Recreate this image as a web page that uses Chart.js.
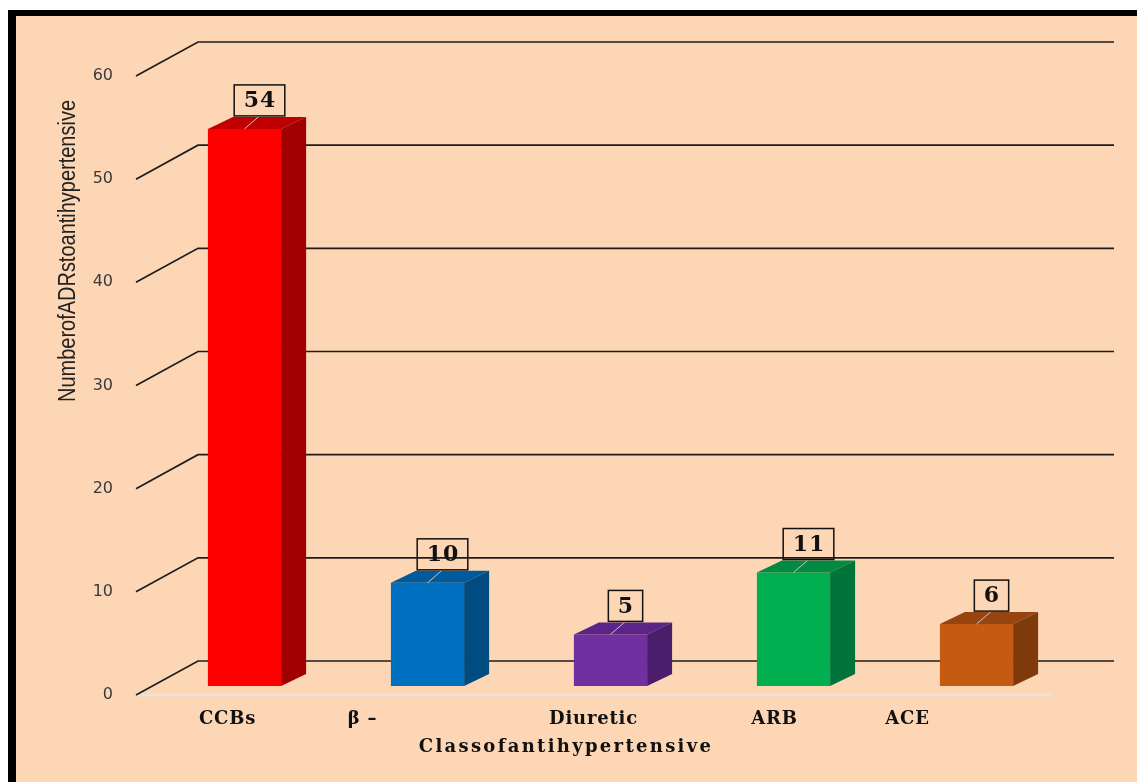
<!DOCTYPE html>
<html>
<head>
<meta charset="utf-8">
<title>ADRs to antihypertensive</title>
<script src="https://cdn.jsdelivr.net/npm/chart.js@4.4.1/dist/chart.umd.min.js"></script>
<style>
  body { margin: 0; background: #fff; overflow: hidden; }
  #frame {
    position: absolute; left: 8px; top: 10px;
    width: 1140px; height: 790px;
    background: #FDD7B5;
    border-top: 6px solid #000;
    border-left: 8px solid #000;
  }
  #adrChart { position: absolute; left: 0; top: 0; }
</style>
</head>
<body>
<div id="frame"></div>
<canvas id="adrChart" width="1137" height="782"></canvas>
<script>
// data
const categories = ['CCBs', 'β –', 'Diuretic', 'ARB', 'ACE'];
const adrCounts = [54, 10, 5, 11, 6];
const yTickValues = [0, 10, 20, 30, 40, 50, 60];
const yAxisTitle = 'NumberofADRstoantihypertensive';
const xAxisTitle = 'Classofantihypertensive';

// colours: front face, side face, top face
const frontColors = ['#FF0000', '#0070C0', '#7030A0', '#00B050', '#C55A11'];
const sideColors  = ['#A00000', '#004B80', '#4A1E6A', '#00743A', '#7F3A0B'];
const topColors   = ['#C00000', '#005A9C', '#5A2586', '#008A42', '#974510'];

// 3d look
const wall = { dx: 62, dy: -34, right: 1114 };
const barShift = { dx: 17, dy: -9 };
const depth = { dx: 25, dy: 12 };
const labelShift = [0, -48, 0, -2, -52];

const box3d = {
  id: 'box3d',
  beforeDatasetsDraw(chart) {
    const { ctx, chartArea, scales: { y } } = chart;
    ctx.save();
    // floor edge
    ctx.strokeStyle = '#E4E4E4';
    ctx.lineWidth = 2;
    ctx.beginPath();
    ctx.moveTo(chartArea.left, chartArea.bottom);
    ctx.lineTo(chartArea.right, chartArea.bottom);
    ctx.stroke();
    // side wall + back wall gridlines
    ctx.strokeStyle = '#1C1C1C';
    ctx.lineWidth = 1.7;
    y.ticks.forEach(t => {
      const py = y.getPixelForValue(t.value);
      ctx.beginPath();
      ctx.moveTo(chartArea.left, py);
      ctx.lineTo(chartArea.left + wall.dx, py + wall.dy);
      ctx.lineTo(wall.right, py + wall.dy);
      ctx.stroke();
    });
    ctx.restore();
    // bars sit a little behind the front plane
    ctx.save();
    ctx.translate(barShift.dx, barShift.dy);
  },
  afterDatasetsDraw(chart) {
    const { ctx } = chart;
    const meta = chart.getDatasetMeta(0);
    meta.data.forEach((bar, i) => {
      const { x, y, base, width } = bar.getProps(['x', 'y', 'base', 'width'], true);
      const l = x - width / 2, r = x + width / 2;
      ctx.fillStyle = topColors[i];
      ctx.beginPath();
      ctx.moveTo(l, y);
      ctx.lineTo(l + depth.dx, y - depth.dy);
      ctx.lineTo(r + depth.dx, y - depth.dy);
      ctx.lineTo(r, y);
      ctx.closePath();
      ctx.fill();
      ctx.fillStyle = sideColors[i];
      ctx.beginPath();
      ctx.moveTo(r, y);
      ctx.lineTo(r + depth.dx, y - depth.dy);
      ctx.lineTo(r + depth.dx, base - depth.dy);
      ctx.lineTo(r, base);
      ctx.closePath();
      ctx.fill();
    });
    ctx.restore();
  },
  afterDraw(chart) {
    const { ctx, scales: { x } } = chart;
    const meta = chart.getDatasetMeta(0);
    ctx.save();

    // value boxes
    ctx.font = 'bold 22px "DejaVu Serif"';
    ctx.letterSpacing = '1px';
    ctx.textAlign = 'center';
    ctx.textBaseline = 'middle';
    meta.data.forEach((bar, i) => {
      const { x: bx, y: by } = bar.getProps(['x', 'y'], true);
      const cx = bx + barShift.dx;
      const top = by + barShift.dy;
      const txt = String(adrCounts[i]);
      const w = ctx.measureText(txt).width + 18;
      const h = 31;
      const boxCx = cx + 15;
      const boxBottom = top - 13;
      ctx.strokeStyle = '#C8C8C8';
      ctx.lineWidth = 1;
      ctx.beginPath();
      ctx.moveTo(cx, top);
      ctx.lineTo(boxCx, boxBottom);
      ctx.stroke();
      ctx.strokeStyle = '#111';
      ctx.lineWidth = 1.5;
      ctx.strokeRect(boxCx - w / 2, boxBottom - h, w, h);
      ctx.fillStyle = '#111';
      ctx.fillText(txt, boxCx + 0.5, boxBottom - h / 2 + 1);
    });

    // category labels
    ctx.font = 'bold 18px "DejaVu Serif"';
    ctx.letterSpacing = '0.8px';
    ctx.fillStyle = '#111';
    categories.forEach((c, i) => {
      ctx.fillText(c, x.getPixelForValue(i) + labelShift[i], 719);
    });

    // axis titles
    ctx.letterSpacing = '2.3px';
    ctx.fillText(xAxisTitle, 566, 747);

    ctx.letterSpacing = '0px';
    ctx.font = '23px "Liberation Sans"';
    ctx.fillStyle = '#222';
    const tw = ctx.measureText(yAxisTitle).width;
    ctx.translate(69, 251);
    ctx.rotate(-Math.PI / 2);
    ctx.scale(302 / tw, 1);
    ctx.fillText(yAxisTitle, 0, 0);
    ctx.restore();
  }
};

const ctx = document.getElementById('adrChart').getContext('2d');
const adrChart = new Chart(ctx, {
  type: 'bar',
  data: {
    labels: categories,
    datasets: [{
      data: adrCounts,
      backgroundColor: frontColors,
      borderWidth: 0,
      barPercentage: 0.4,
      categoryPercentage: 1
    }]
  },
  options: {
    responsive: false,
    animation: false,
    devicePixelRatio: 1,
    layout: { padding: { left: 0, top: 76, right: 86, bottom: 87 } },
    plugins: { legend: { display: false }, tooltip: { enabled: false } },
    scales: {
      x: {
        grid: { display: false },
        border: { display: false },
        ticks: { display: false },
        afterFit(s) { s.height = 0; }
      },
      y: {
        min: 0,
        max: 60,
        grid: { display: false },
        border: { display: false },
        afterFit(s) { s.width = 136; },
        afterBuildTicks(s) { s.ticks = yTickValues.map(v => ({ value: v })); },
        ticks: {
          padding: 15,
          color: '#3A3A3A',
          font: { family: 'DejaVu Sans', size: 16 }
        }
      }
    }
  },
  plugins: [box3d]
});
</script>
</body>
</html>
